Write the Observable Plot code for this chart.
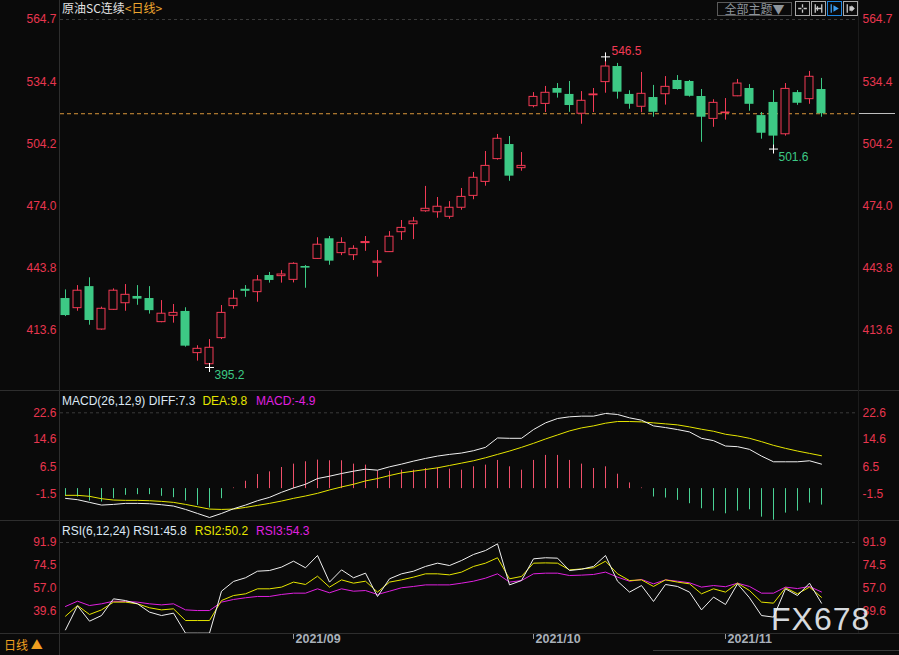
<!DOCTYPE html>
<html><head><meta charset="utf-8">
<script src="https://cdn.jsdelivr.net/npm/d3@7"></script>
<script src="https://cdn.jsdelivr.net/npm/@observablehq/plot@0.6"></script>
<style>
html,body{margin:0;padding:0;background:#0a0a0a;}
#wrap{position:relative;width:899px;height:655px;background:#0a0a0a;overflow:hidden;font-family:"Liberation Sans","Noto Sans CJK SC",sans-serif;}
</style></head>
<body><div id="wrap"></div>
<script>
// ---- data ----
const dates = [
"2021-08-05","2021-08-06","2021-08-09","2021-08-10","2021-08-11","2021-08-12","2021-08-13","2021-08-16","2021-08-17","2021-08-18",
"2021-08-19","2021-08-20","2021-08-23","2021-08-24","2021-08-25","2021-08-26","2021-08-27","2021-08-30","2021-08-31",
"2021-09-01","2021-09-02","2021-09-03","2021-09-06","2021-09-07","2021-09-08","2021-09-09","2021-09-10","2021-09-13","2021-09-14",
"2021-09-15","2021-09-16","2021-09-17","2021-09-22","2021-09-23","2021-09-24","2021-09-27","2021-09-28","2021-09-29","2021-09-30",
"2021-10-08","2021-10-11","2021-10-12","2021-10-13","2021-10-14","2021-10-15","2021-10-18","2021-10-19","2021-10-20","2021-10-21",
"2021-10-22","2021-10-25","2021-10-26","2021-10-27","2021-10-28","2021-10-29",
"2021-11-01","2021-11-02","2021-11-03","2021-11-04","2021-11-05","2021-11-08","2021-11-09","2021-11-10","2021-11-11"];
const open  = [428.8,424.1,434.6,413.7,423.3,426.5,429.8,428.8,417.3,420.4,422.5,402.2,396.8,409.5,425.1,433.3,431.9,440.0,439.7,437.9,
444.4,448.1,457.9,450.9,449.9,455.8,446.2,451.4,461.1,465.0,471.3,470.8,468.6,473.0,478.8,485.6,496.7,503.8,492.3,522.5,
523.6,531.1,528.2,518.8,527.8,534.2,541.8,528.2,522.2,526.7,528.3,535.0,534.5,527.2,516.3,519.1,527.3,531.1,517.9,524.3,
508.8,529.1,525.9,530.6];
const high  = [433.0,435.1,438.9,424.6,433.5,435.6,435.1,434.6,427.8,425.9,424.3,405.8,408.8,425.4,432.7,435.1,440.0,441.5,442.4,446.2,
444.9,458.4,459.0,458.4,454.5,459.0,452.2,461.4,466.8,468.3,483.4,478.0,476.0,482.4,490.2,500.4,508.7,507.7,499.9,529.1,
532.1,533.5,534.5,529.6,531.1,546.5,543.3,530.0,538.9,532.6,536.9,537.4,535.0,530.6,525.6,526.2,535.5,533.0,519.4,530.1,
533.5,530.1,539.4,536.0];
const low   = [420.0,422.6,415.8,413.4,423.0,422.6,425.5,421.2,417.0,416.8,405.1,398.3,395.2,408.8,423.6,429.4,427.0,436.3,436.3,436.4,
433.8,447.9,445.0,449.7,447.3,451.8,439.2,451.2,457.1,457.5,470.8,467.9,467.4,471.8,476.9,483.5,496.2,485.9,490.8,521.7,
519.4,526.4,519.5,513.7,519.4,528.8,525.9,521.0,519.3,517.1,523.0,530.3,526.9,504.9,512.2,515.7,527.1,520.0,506.4,501.6,
507.9,522.9,523.4,517.1];
const close = [420.5,432.6,418.1,423.8,432.6,430.6,428.5,422.9,421.4,421.8,405.6,404.3,404.8,421.8,428.7,432.3,437.6,437.6,440.5,445.7,
443.6,455.0,447.0,455.9,453.0,456.3,446.8,458.9,463.2,466.3,472.5,473.5,473.0,478.3,487.6,493.4,506.6,488.4,493.4,527.0,
529.0,528.8,522.8,525.1,528.2,541.8,529.3,523.4,528.5,519.5,531.9,530.6,527.3,517.1,524.1,519.4,533.5,523.4,509.3,507.9,
530.9,523.9,536.8,518.8];

const diff = [-2.9,-3.3,-4.1,-4.9,-4.7,-4.4,-4.4,-4.5,-4.8,-5.2,-6.2,-7.4,-8.6,-7.4,-6.0,-4.9,-3.6,-2.6,-1.1,0.2,
1.3,3.0,3.7,4.5,5.2,5.8,5.5,6.5,7.3,8.2,9.0,9.7,10.2,10.6,11.3,12.3,15.1,15.0,15.0,17.6,
19.6,20.9,21.4,21.6,21.6,22.4,22.1,21.1,20.4,18.7,18.2,17.6,16.9,15.0,14.3,12.7,12.5,11.7,9.7,8.0,
8.0,8.0,8.3,7.3];
const dea = [-2.0,-2.0,-2.3,-3.0,-3.4,-3.5,-3.5,-3.6,-3.8,-4.1,-4.7,-5.4,-6.1,-6.2,-6.1,-5.6,-5.0,-4.4,-3.7,-2.9,
-2.2,-1.4,-0.4,0.5,1.3,2.3,3.0,3.9,4.7,5.2,5.7,6.2,6.9,7.6,8.3,9.2,10.2,11.2,12.3,13.5,
14.8,16.0,17.2,18.1,18.7,19.5,20.0,20.0,19.9,19.6,19.3,19.0,18.4,17.7,17.1,16.2,15.7,15.0,14.0,12.9,
12.0,11.2,10.5,9.8];
const macdHist = [-2.3,-2.5,-3.7,-4.0,-3.0,-2.0,-1.8,-1.8,-2.3,-2.7,-3.7,-5.0,-5.8,-3.0,0.2,2.2,4.2,5.0,6.3,7.3,
8.0,8.5,8.3,8.3,7.3,7.0,5.3,5.2,5.5,5.5,6.0,6.2,5.8,5.5,6.5,7.0,8.4,6.5,5.5,8.4,
9.9,9.9,8.4,7.3,6.0,6.5,4.3,1.7,0.2,-2.5,-2.8,-3.5,-4.5,-6.0,-6.7,-7.5,-6.7,-6.3,-8.5,-9.4,
-7.3,-6.7,-4.3,-4.9];

const rsi1 = [25.5,43.8,32.1,36.4,49.1,47.8,45.3,39.0,36.4,38.2,23.0,23.0,23.0,54.9,62.3,65.1,70.1,70.6,73.2,77.7,
72.7,82.0,61.8,71.1,65.1,68.6,50.9,64.3,68.1,70.1,73.7,76.2,74.4,78.2,82.8,85.8,90.9,59.7,63.0,79.5,
80.3,80.0,70.6,71.6,73.7,82.0,62.5,54.2,59.2,47.1,60.0,58.5,54.2,40.7,50.4,44.8,60.5,49.9,36.4,35.2,
56.7,51.6,61.0,45.8];
const rsi2 = [35.9,44.0,37.2,40.7,46.6,46.6,45.3,42.3,40.7,41.5,32.6,32.6,32.6,47.8,51.6,52.9,56.7,56.7,58.0,61.8,
60.0,66.3,58.0,63.5,61.0,62.5,54.2,61.8,63.5,65.6,68.1,68.1,67.3,69.4,73.7,76.2,80.3,64.3,66.1,76.2,
76.4,76.2,71.1,71.8,72.7,77.7,68.1,63.0,63.5,58.5,63.5,61.8,60.5,52.9,56.7,54.2,61.0,55.4,46.6,45.8,
57.5,52.9,58.0,50.2];
const rsi3 = [43.3,47.3,44.0,45.3,47.3,47.1,46.6,45.3,44.5,45.3,40.7,40.2,40.2,46.6,48.6,49.9,50.9,50.9,52.4,53.4,
53.4,56.7,53.7,56.7,54.9,55.4,52.4,54.9,57.5,58.5,59.7,59.7,59.7,61.0,62.5,64.8,68.1,61.8,63.0,68.1,
68.6,68.6,66.8,67.1,67.6,69.4,65.6,62.5,63.8,60.5,63.5,62.5,61.3,58.0,59.2,58.3,61.0,58.5,53.4,53.4,
58.0,56.9,58.5,54.3];

const priceTicks = [564.7,534.4,504.2,474.0,443.8,413.6];
const macdTicks = [22.6,14.6,6.5,-1.5];
const rsiTicks = [91.9,74.5,57.0,39.6];
const macdLegend = ["MACD(26,12,9) DIFF:7.3","DEA:9.8","MACD:-4.9"];
const rsiLegend = ["RSI(6,12,24) RSI1:45.8","RSI2:50.2","RSI3:54.3"];
const titleMain = "原油SC连续", titlePeriod = "<日线>";

// ---- drawing ----
const wrap = document.getElementById("wrap");
const W = 899, ML = 60, MR = 41;
const xDomain = [-5/12, 793/12];
const RED = "#f23a55", GREEN = "#3dc985", AX = "#e8364f";
const HRED = "#f0506a", HGREEN = "#4ad294";
const WHITE = "#f0f0f0", YEL = "#e6e600", MAG = "#e020e0";
const FONT = "'Liberation Sans','Noto Sans CJK SC',sans-serif";
const baseStyle = {background:"transparent", fontFamily:FONT, fontSize:"12px", overflow:"visible"};
const dashed = {stroke:"#3a3a3a", strokeDasharray:"3,3"};

function tickLabels(ticks){
  return [
    Plot.text(ticks, {y:d=>d, text:d=>d.toFixed(1), frameAnchor:"left", textAnchor:"end", dx:-4, fill:AX, fontSize:12}),
    Plot.text(ticks, {y:d=>d, text:d=>d.toFixed(1), frameAnchor:"right", textAnchor:"start", dx:4, fill:AX, fontSize:12})
  ];
}

const candles = dates.map((d,i)=>({i, date:d, open:open[i], high:high[i], low:low[i], close:close[i]}));
const ups = candles.filter(d=>d.close>=d.open);
const downs = candles.filter(d=>d.close<d.open);
const lastClose = close[close.length-1];
const hiI = high.indexOf(d3.max(high));
const loI = low.indexOf(d3.min(low));
const tail = low.slice(hiI);
const lo2I = hiI + tail.indexOf(d3.min(tail));
const hiNote = [{i:hiI, v:high[hiI]}];
const loNotes = [{i:loI, v:low[loI]}, {i:lo2I, v:low[lo2I]}];

const main = Plot.plot({
  width:W, height:390, marginLeft:ML, marginRight:MR, marginTop:19, marginBottom:0,
  style:baseStyle,
  x:{domain:xDomain, axis:null},
  y:{domain:[384.0,564.7], axis:null},
  marks:[
    Plot.ruleY([priceTicks[0]], dashed),
    Plot.ruleY([lastClose], {stroke:"#d8953a", strokeDasharray:"4,3"}),
    Plot.ruleX(ups, {x:"i", y1:"low", y2:"high", stroke:RED}),
    Plot.ruleX(downs, {x:"i", y1:"low", y2:"high", stroke:GREEN}),
    Plot.rect(downs, {x1:d=>d.i-0.375, x2:d=>d.i+0.375, y1:"open", y2:"close", fill:GREEN}),
    Plot.rect(ups, {x1:d=>d.i-1/3, x2:d=>d.i+1/3, y1:"open", y2:"close", fill:"#0a0a0a", stroke:RED}),
    Plot.dot(hiNote.concat(loNotes), {x:"i", y:"v", symbol:"plus", r:3, stroke:"#ffffff", strokeWidth:1}),
    Plot.text(hiNote, {x:"i", y:"v", text:d=>d.v.toFixed(1), textAnchor:"start", dx:6, dy:-6, fill:RED, fontSize:12}),
    Plot.text(loNotes, {x:"i", y:"v", text:d=>d.v.toFixed(1), textAnchor:"start", dx:5, dy:8, fill:GREEN, fontSize:12}),
    ...tickLabels(priceTicks)
  ]
});

const macdRows = dates.map((d,i)=>({i, diff:diff[i], dea:dea[i], hist:macdHist[i]}));
const macdPlot = Plot.plot({
  width:W, height:130, marginLeft:ML, marginRight:MR, marginTop:22.3, marginBottom:0,
  style:baseStyle,
  x:{domain:xDomain, axis:null},
  y:{domain:[-9.5,22.6], axis:null},
  marks:[
    Plot.ruleY([macdTicks[0]], dashed),
    Plot.ruleX(macdRows.filter(d=>d.hist>=0), {x:"i", y1:0, y2:"hist", stroke:HRED}),
    Plot.ruleX(macdRows.filter(d=>d.hist<0), {x:"i", y1:0, y2:"hist", stroke:HGREEN}),
    Plot.line(macdRows, {x:"i", y:"dea", stroke:YEL, strokeWidth:1}),
    Plot.line(macdRows, {x:"i", y:"diff", stroke:WHITE, strokeWidth:1}),
    ...tickLabels(macdTicks)
  ]
});

const rsiRows = dates.map((d,i)=>({i, r1:rsi1[i], r2:rsi2[i], r3:rsi3[i]}));
const monthTicks = dates
  .map((d,i)=>({i, d}))
  .filter(o=>o.i>0 && o.d.slice(0,7)!==dates[o.i-1].slice(0,7))
  .map(o=>({i:o.i, label:o.d.slice(0,7).replace("-","/")}));
const rsiPlot = Plot.plot({
  width:W, height:135, marginLeft:ML, marginRight:MR, marginTop:22, marginBottom:22,
  style:baseStyle,
  x:{domain:xDomain, label:null},
  y:{domain:[22.75,91.9], axis:null},
  marks:[
    Plot.ruleY([rsiTicks[0]], dashed),
    Plot.line(rsiRows, {x:"i", y:"r3", stroke:MAG, strokeWidth:1}),
    Plot.line(rsiRows, {x:"i", y:"r2", stroke:YEL, strokeWidth:1}),
    Plot.line(rsiRows, {x:"i", y:"r1", stroke:WHITE, strokeWidth:1}),
    Plot.axisX(monthTicks.map(d=>d.i), {tickSize:6, tickFormat:()=>"", stroke:"#9a9a9a", label:null}),
    Plot.text(monthTicks, {x:"i", text:"label", frameAnchor:"bottom", dy:9, dx:2, textAnchor:"start", fill:"#a9b1ba", fontWeight:"bold", fontSize:12.5}),
    ...tickLabels(rsiTicks)
  ]
});

function place(el, top){
  el.style.position = "absolute"; el.style.left = "0px"; el.style.top = top + "px";
  wrap.appendChild(el);
}
place(main, 0); place(macdPlot, 390); place(rsiPlot, 520);

function div(css, html){ const d = document.createElement("div"); d.style.cssText = css; if (html!=null) d.innerHTML = html; wrap.appendChild(d); return d; }
// structural lines
[390,520,633].forEach(t=>div("position:absolute;left:0;top:"+t+"px;width:899px;height:1px;background:#2e2e2e;"));
div("position:absolute;left:59px;top:0;width:1px;height:655px;background:#2e2e2e;");
div("position:absolute;left:858px;top:0;width:1px;height:633px;background:#1c1c1c;");
div("position:absolute;left:653px;top:650px;width:246px;height:1px;background:#3a3a3a;");
// last price marker in right margin
const yLC = main.scale("y").apply(lastClose);
div("position:absolute;left:859px;top:"+(Math.round(yLC))+"px;width:36px;height:1px;background:#bfbfbf;");

// titles & legends
div("position:absolute;left:62px;top:1px;font-size:12px;line-height:14px;font-family:'Noto Sans CJK SC',sans-serif;white-space:nowrap;",
  '<span style="color:#e2e2e2">'+titleMain+'</span><span style="color:#f0a830">'+titlePeriod.replace("<","&lt;").replace(">","&gt;")+'</span>');
div("position:absolute;left:62px;top:394px;font-size:12px;line-height:14px;white-space:nowrap;",
  '<span style="color:#dce8f4">'+macdLegend[0]+'</span><span style="color:'+YEL+';margin-left:7px">'+macdLegend[1]+'</span><span style="color:'+MAG+';margin-left:9px">'+macdLegend[2]+'</span>');
div("position:absolute;left:62px;top:524px;font-size:12px;line-height:14px;white-space:nowrap;",
  '<span style="color:#dce8f4">'+rsiLegend[0]+'</span><span style="color:'+YEL+';margin-left:8px">'+rsiLegend[1]+'</span><span style="color:'+MAG+';margin-left:8px">'+rsiLegend[2]+'</span>');

// top-right controls
div("position:absolute;left:717px;top:2px;width:73px;height:12px;border:1px solid #5a5a5a;color:#8e959c;font-size:12px;line-height:12px;text-align:center;font-family:'Noto Sans CJK SC',sans-serif;", "全部主题▼");
const icons = [
  {x:795, c:"#a8a8a8", svg:'<path d="M6 2V5M6 7V10M2 6H5M7 6H10" stroke="#c8c8c8" stroke-width="1.2"/>'},
  {x:811, c:"#a8a8a8", svg:'<path d="M3 2V10M9 2V10M3 6H9M5 4V8" stroke="#c8c8c8" stroke-width="1.2"/>'},
  {x:827, c:"#1f86e0", svg:'<path d="M3 2V10" stroke="#3a9cf0" stroke-width="1.2"/><path d="M5 3L10 6L5 9Z" fill="#3a9cf0"/>'},
  {x:843, c:"#a8a8a8", svg:'<path d="M3 2V10" stroke="#c8c8c8" stroke-width="1.2"/><path d="M5 4H7V8H5Z M7 3L10 6L7 9Z" fill="#c8c8c8"/>'}
];
icons.forEach(o=>div("position:absolute;left:"+o.x+"px;top:1px;width:13px;height:13px;border:1px solid "+o.c+";",
  '<svg width="13" height="13" viewBox="0 0 12 12" style="display:block">'+o.svg+'</svg>'));

// bottom-left period switch
div("position:absolute;left:4px;top:637px;font-size:12px;line-height:15px;color:#f0a020;font-family:'Noto Sans CJK SC',sans-serif;white-space:nowrap;", "日线&nbsp;▲");

// watermark
div("position:absolute;left:771px;top:603px;font-size:32px;line-height:32px;letter-spacing:1px;color:rgba(236,240,244,0.92);font-family:'Liberation Sans',sans-serif;white-space:nowrap;", "FX678");
</script></body></html>
